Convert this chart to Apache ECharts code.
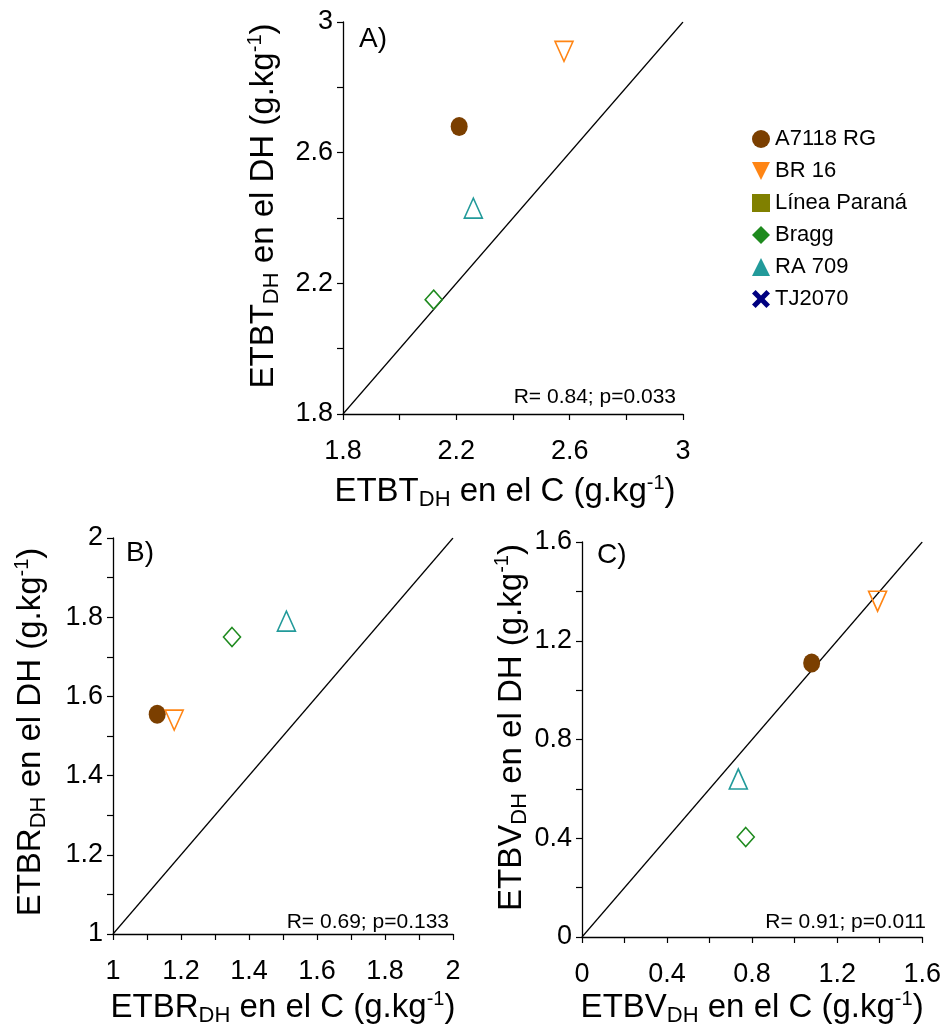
<!DOCTYPE html>
<html>
<head>
<meta charset="utf-8">
<script src="https://cdn.jsdelivr.net/npm/echarts@6/dist/echarts.min.js"></script>
<style>html,body{margin:0;padding:0;background:#fff}#c{width:944px;height:1031px}</style>
</head>
<body>
<div id="c"></div>
<script>
// Genotypes (legend)
const genotypes = ['A7118 RG', 'BR 16', 'Línea Paraná', 'Bragg', 'RA 709', 'TJ2070'];
const colors = ['#7B3F00', '#FF8514', '#808000', '#1E8A1E', '#229A9A', '#000080'];

// Panel A: ETBT
const aX = [2.21, 2.58, null, 2.12, 2.26, null];
const aY = [2.68, 2.91, null, 2.15, 2.43, null];
// Panel B: ETBR
const bX = [1.13, 1.18, null, 1.35, 1.51, null];
const bY = [1.555, 1.54, null, 1.75, 1.79, null];
// Panel C: ETBV
const cX = [1.08, 1.39, null, 0.77, 0.735, null];
const cY = [1.11, 1.36, null, 0.405, 0.64, null];

const statsText = ['R= 0.84; p=0.033', 'R= 0.69; p=0.133', 'R= 0.91; p=0.011'];
const panelLabels = ['A)', 'B)', 'C)'];
const varNames = ['ETBT', 'ETBR', 'ETBV'];

const FONT = 'Liberation Sans, Arial, sans-serif';
const symbols = ['circle', 'triangle', 'rect', 'diamond', 'triangle', 'path://M0,2L2,0L5,3L8,0L10,2L7,5L10,8L8,10L5,7L2,10L0,8L3,5Z'];
const rotates = [0, 180, 0, 0, 0, 0];
const filled = [true, false, false, false, false, false];
const sizes = [[17,19],[18,20],[16,16],[17,19],[18,20],[16,16]];

const panels = [
  {x: aX, y: aY, min: 1.8, max: 3, step: 0.2, lab: 0.4},
  {x: bX, y: bY, min: 1, max: 2, step: 0.1, lab: 0.2},
  {x: cX, y: cY, min: 0, max: 1.6, step: 0.2, lab: 0.4}
];

const grids = [
  {left: 343, top: 22, width: 340, height: 392},
  {left: 113, top: 538, width: 340, height: 396},
  {left: 582, top: 542, width: 341, height: 395}
];
const xNameGap = [59, 55, 52];
const yNameGap = [60, 63, 46];
const xNamePad = [[0, 16, 0, 0], [0, 0, 0, 0], [0, 0, 0, 0]];
const yNamePad = [[0, 0, 0, 24], [0, 0, 0, 8], [0, 0, 0, 24]];

function fmt(min, lab) {
  return function (v) {
    const r = (v - min) / lab;
    if (Math.abs(r - Math.round(r)) > 1e-6) return '';
    return String(Math.round(v * 10) / 10);
  };
}

const rich = {
  m: {fontSize: 33, fontFamily: FONT, color: '#000', lineHeight: 38},
  s: {fontSize: 22, fontFamily: FONT, color: '#000', lineHeight: 38, verticalAlign: 'bottom', padding: [15, 0, 0, 0]},
  p: {fontSize: 20, fontFamily: FONT, color: '#000', lineHeight: 38, verticalAlign: 'top', padding: [0, 0, 13, 0]}
};

function axisName(v, where) {
  return '{m|' + v + '}{s|DH}{m| en el ' + where + ' (g.kg}{p|-1}{m|)}';
}

function makeAxis(i, isX) {
  const p = panels[i];
  return {
    type: 'value', gridIndex: i, min: p.min, max: p.max, interval: p.step,
    name: axisName(varNames[i], isX ? 'C' : 'DH'),
    nameLocation: 'middle',
    nameGap: isX ? xNameGap[i] : yNameGap[i],
    nameTextStyle: {rich: rich, fontFamily: FONT, padding: isX ? xNamePad[i] : yNamePad[i]},
    axisLine: {show: true, onZero: false, lineStyle: {color: '#000', width: 1.3}},
    axisTick: {show: true, inside: false, length: 6, lineStyle: {color: '#000', width: 1.2}},
    splitLine: {show: false},
    axisLabel: {show: true, formatter: fmt(p.min, p.lab), fontSize: 27, fontFamily: FONT, color: '#000', margin: isX ? 24 : 10, showMinLabel: true, showMaxLabel: true, hideOverlap: false}
  };
}

const xAxes = [0, 1, 2].map(i => makeAxis(i, true));
const yAxes = [0, 1, 2].map(i => makeAxis(i, false));

const series = [];
panels.forEach((p, i) => {
  series.push({
    type: 'line', name: 'diag' + i, xAxisIndex: i, yAxisIndex: i,
    data: [[p.min, p.min], [p.max, p.max]], symbol: 'none', silent: true,
    lineStyle: {color: '#000', width: 1.2}, z: 1
  });
  genotypes.forEach((g, k) => {
    const d = (p.x[k] == null) ? [] : [[p.x[k], p.y[k]]];
    series.push({
      type: 'scatter', name: g, xAxisIndex: i, yAxisIndex: i, data: d,
      symbol: symbols[k], symbolRotate: rotates[k], symbolSize: sizes[k], z: 3,
      itemStyle: filled[k] ? {color: colors[k], borderWidth: 0, opacity: 1}
                           : {color: 'rgba(255,255,255,0)', borderColor: colors[k], borderWidth: 1.6, opacity: 1}
    });
  });
});

const legendIcons = ['circle', 'path://M0,0L10,0L5,10Z', 'rect', 'diamond', 'triangle', 'path://M0,2L2,0L5,3L8,0L10,2L7,5L10,8L8,10L5,7L2,10L0,8L3,5Z'];

const graphic = [];
const labelPos = [[359, 25], [126, 539], [597, 541]];
const statPos = [[676, 397], [449, 922], [926, 922]];
for (let i = 0; i < 3; i++) {
  graphic.push({type: 'text', x: labelPos[i][0], y: labelPos[i][1],
    style: {text: panelLabels[i], fontSize: 28, fontFamily: FONT, fill: '#000'}});
  graphic.push({type: 'text', x: statPos[i][0], y: statPos[i][1],
    style: {text: statsText[i], fontSize: 21, fontFamily: FONT, fill: '#000', align: 'right', verticalAlign: 'middle'}});
}

const chart = echarts.init(document.getElementById('c'), null, {renderer: 'canvas'});
chart.setOption({
  animation: false,
  backgroundColor: '#fff',
  grid: grids,
  xAxis: xAxes,
  yAxis: yAxes,
  series: series,
  graphic: graphic,
  legend: {
    orient: 'vertical', left: 747, top: 123,
    itemWidth: 18, itemHeight: 18, itemGap: 10,
    textStyle: {fontSize: 22, fontFamily: FONT, color: '#000'},
    data: genotypes.map((g, k) => ({name: g, icon: legendIcons[k], itemStyle: {color: colors[k], borderWidth: 0}}))
  }
});
</script>
</body>
</html>
